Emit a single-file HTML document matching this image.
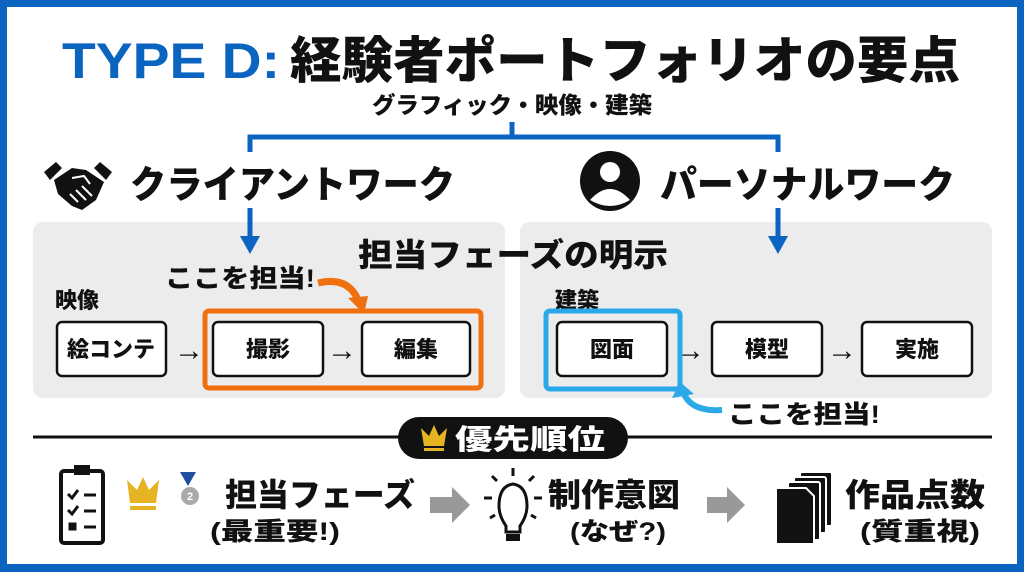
<!DOCTYPE html>
<html><head><meta charset="utf-8"><style>
html,body{margin:0;padding:0;background:#fff}
svg{display:block}
text{font-family:"Liberation Sans","Noto Sans CJK JP",sans-serif;font-weight:900}
</style></head><body>
<svg width="1024" height="572" viewBox="0 0 1024 572" xmlns="http://www.w3.org/2000/svg">
<rect x="0" y="0" width="1024" height="572" fill="#0a64c0"/>
<rect x="7" y="7" width="1010" height="557" fill="#fff"/>
<text x="62" y="78" font-size="50" fill="#0a64c0" textLength="218" lengthAdjust="spacingAndGlyphs">TYPE D:</text>
<text x="290" y="78" font-size="50" fill="#111" textLength="670" lengthAdjust="spacingAndGlyphs">経験者ポートフォリオの要点</text>
<text x="372" y="113" font-size="23" fill="#111" textLength="280" lengthAdjust="spacingAndGlyphs">グラフィック・映像・建築</text>
<g stroke="#0a64c0" stroke-width="5" fill="none">
<path d="M512 122 V137 M250 152 V137 H778 V152"/>
</g>
<g fill="#111">
<path d="M44 172 L56 162 L62 168 L50 180 Z M112 172 L100 162 L94 168 L106 180 Z"/>
<path d="M54 180 L72 168 L86 170 L104 182 L96 200 L82 210 L72 206 L58 194 Z"/>
</g>
<g stroke="#fff" stroke-width="2" fill="none"><path d="M70 194 L78 202 M76 190 L86 200 M82 186 L92 196 M72 178 L84 176 L90 184"/></g>
<text x="130" y="198" font-size="38" fill="#111" textLength="325" lengthAdjust="spacingAndGlyphs">クライアントワーク</text>
<circle cx="610" cy="181" r="30" fill="#111"/>
<circle cx="610" cy="172" r="10" fill="#fff"/>
<path d="M590 200 Q610 178 630 200 Q610 212 590 200 Z" fill="#fff"/>
<text x="660" y="198" font-size="38" fill="#111" textLength="295" lengthAdjust="spacingAndGlyphs">パーソナルワーク</text>
<rect x="33" y="222" width="472" height="176" rx="10" fill="#ececec"/>
<rect x="520" y="222" width="472" height="176" rx="10" fill="#ececec"/>
<path d="M250 208 V238 M778 208 V238" stroke="#0a64c0" stroke-width="5"/>
<path d="M240 236 L260 236 L250 254 Z M768 236 L788 236 L778 254 Z" fill="#0a64c0"/>
<text x="358" y="266" font-size="32" fill="#111" textLength="310" lengthAdjust="spacingAndGlyphs">担当フェーズの明示</text>
<text x="55" y="308" font-size="22" fill="#111">映像</text>
<text x="165" y="287" font-size="25" fill="#111" textLength="150" lengthAdjust="spacingAndGlyphs">ここを担当!</text>
<path d="M318 283 Q348 276 358 300" stroke="#f07010" stroke-width="7" fill="none"/>
<path d="M348 298 L368 296 L364 314 Z" fill="#f07010"/>
<rect x="205" y="311" width="276" height="77" rx="4" fill="none" stroke="#f07010" stroke-width="5"/>
<g fill="#fff" stroke="#111" stroke-width="2.5">
<rect x="57" y="322" width="109" height="54" rx="5"/>
<rect x="213" y="322" width="110" height="54" rx="5"/>
<rect x="362" y="322" width="108" height="54" rx="5"/>
<rect x="557" y="322" width="110" height="54" rx="5"/>
<rect x="712" y="322" width="110" height="54" rx="5"/>
<rect x="862" y="322" width="110" height="54" rx="5"/>
</g>
<g font-size="22" fill="#111" text-anchor="middle">
<text x="111" y="357">絵コンテ</text>
<text x="268" y="357">撮影</text>
<text x="416" y="357">編集</text>
<text x="612" y="357">図面</text>
<text x="767" y="357">模型</text>
<text x="917" y="357">実施</text>
</g>
<g font-size="30" fill="#111" text-anchor="middle" font-family="DejaVu Sans">
<text x="189" y="360">→</text>
<text x="342" y="360">→</text>
<text x="690" y="360">→</text>
<text x="842" y="360">→</text>
</g>
<text x="555" y="308" font-size="22" fill="#111">建築</text>
<rect x="546" y="311" width="134" height="78" rx="4" fill="none" stroke="#2aa8e8" stroke-width="5"/>
<path d="M722 410 Q692 412 684 394" stroke="#2aa8e8" stroke-width="6" fill="none"/>
<path d="M672 398 L680 382 L694 394 Z" fill="#2aa8e8"/>
<text x="728" y="423" font-size="25" fill="#111" textLength="152" lengthAdjust="spacingAndGlyphs">ここを担当!</text>
<line x1="33" y1="437" x2="992" y2="437" stroke="#111" stroke-width="3"/>
<rect x="398" y="417" width="230" height="42" rx="21" fill="#111"/>
<path d="M424 446 L421 428 L429 436 L434 425 L439 436 L447 428 L444 446 Z" fill="#e6b422"/>
<rect x="424" y="448" width="20" height="3" fill="#e6b422"/>
<text x="455" y="449" font-size="28" fill="#fff" textLength="150" lengthAdjust="spacingAndGlyphs">優先順位</text>
<rect x="61" y="471" width="42" height="72" rx="3" fill="none" stroke="#111" stroke-width="4"/>
<rect x="74" y="465" width="16" height="10" fill="#111"/>
<g stroke="#111" stroke-width="3" fill="none">
<path d="M68 494 l4 4 l6 -8 M84 495 H96 M68 510 l4 4 l6 -8 M84 511 H96 M84 527 H96"/>
<rect x="70" y="524" width="5" height="5" fill="#111"/>
</g>
<path d="M130 503 L127 480 L137 490 L143 477 L149 490 L159 480 L156 503 Z" fill="#e6b422"/>
<rect x="130" y="506" width="26" height="4" fill="#e6b422"/>
<path d="M180 472 L188 486 L196 472 Z" fill="#1e4fa0"/>
<circle cx="190" cy="496" r="9" fill="#aaa"/>
<text x="190" y="500" font-size="11" fill="#fff" text-anchor="middle">2</text>
<text x="225" y="506" font-size="32" fill="#111" textLength="190" lengthAdjust="spacingAndGlyphs">担当フェーズ</text>
<text x="210" y="540" font-size="25" fill="#111" textLength="130" lengthAdjust="spacingAndGlyphs">(最重要!)</text>
<path d="M430 497 H452 V487 L470 505 L452 523 V513 H430 Z" fill="#999"/>
<g stroke="#111" stroke-width="3" fill="none">
<path d="M499 506 Q499 486 513 484 Q527 486 527 506 Q527 516 520 526 V532 H506 V526 Q499 516 499 506 Z"/>
<path d="M513 468 V476 M492 476 l5 5 M534 476 l-5 5 M484 498 H492 M534 498 H542 M490 518 l5 -3 M536 518 l-5 -3"/>
</g>
<rect x="506" y="534" width="14" height="7" fill="#111"/>
<text x="548" y="506" font-size="32" fill="#111" textLength="132" lengthAdjust="spacingAndGlyphs">制作意図</text>
<text x="570" y="540" font-size="25" fill="#111" textLength="96" lengthAdjust="spacingAndGlyphs">(なぜ?)</text>
<path d="M707 497 H727 V487 L745 505 L727 523 V513 H707 Z" fill="#999"/>
<g fill="#111" stroke="#fff" stroke-width="2">
<rect x="800" y="472" width="32" height="54" rx="2"/>
<rect x="794" y="477" width="32" height="56" rx="2"/>
<rect x="788" y="482" width="32" height="58" rx="2"/>
<path d="M776 488 H806 L814 496 V544 H776 Z"/>
</g>
<text x="845" y="506" font-size="32" fill="#111" textLength="140" lengthAdjust="spacingAndGlyphs">作品点数</text>
<text x="860" y="540" font-size="25" fill="#111" textLength="120" lengthAdjust="spacingAndGlyphs">(質重視)</text>
</svg>
</body></html>
